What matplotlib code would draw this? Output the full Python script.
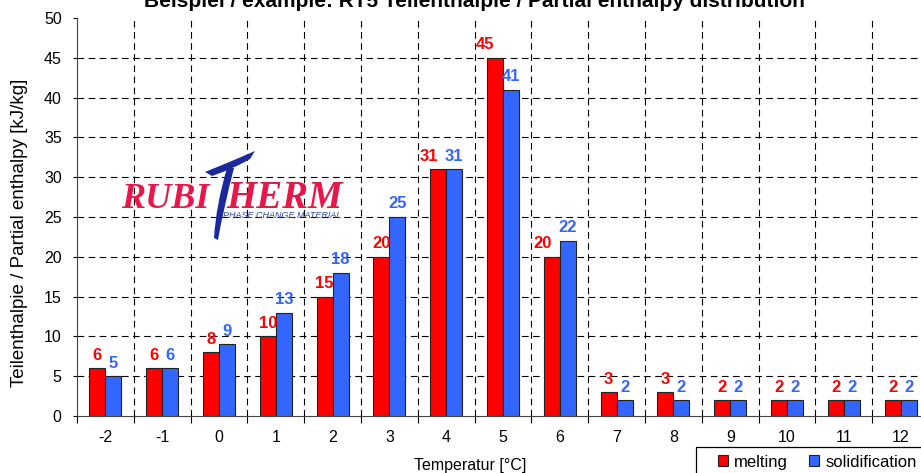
import matplotlib.pyplot as plt
import numpy as np
from matplotlib.path import Path
from matplotlib.patches import PathPatch, Rectangle

plt.rcParams['font.family'] = ['Liberation Sans', 'DejaVu Sans']

# data
temps = ['-2', '-1', '0', '1', '2', '3', '4', '5', '6', '7', '8', '9', '10', '11', '12']
melting = [6, 6, 8, 10, 15, 20, 31, 45, 20, 3, 3, 2, 2, 2, 2]
solidification = [5, 6, 9, 13, 18, 25, 31, 41, 22, 2, 2, 2, 2, 2, 2]

red = '#ff0000'
blue = '#3366ff'
W, H = 921, 473


def fx(px):
    return px / W


def fy(py):
    return 1 - py / H


fig = plt.figure(figsize=(W / 100, H / 100), dpi=100)
ax = fig.add_axes([fx(77), fy(416), 852 / W, 398 / H])

x = np.arange(len(temps))
bw = 0.28
ax.bar(x - bw / 2, melting, bw, color=red, edgecolor='#222222', linewidth=0.8, label='melting', zorder=3)
ax.bar(x + bw / 2, solidification, bw, color=blue, edgecolor='#222222', linewidth=0.8, label='solidification', zorder=3)

for i in range(len(temps)):
    # red label pushed left where both labels sit at about the same height
    dx = -7 if (abs(melting[i] - solidification[i]) <= 4 and melting[i] >= 20) else 0
    ax.annotate(str(melting[i]), (x[i] - bw / 2, melting[i]), xytext=(dx, 4), textcoords='offset points',
                ha='center', va='bottom', color=red, fontsize=12, fontweight='bold')
    ax.annotate(str(solidification[i]), (x[i] + bw / 2, solidification[i]), xytext=(0, 4), textcoords='offset points',
                ha='center', va='bottom', color=blue, fontsize=12, fontweight='bold')

ax.set_xlim(-0.5, len(temps) - 0.5)
ax.set_ylim(0, 50)
ax.set_yticks(np.arange(0, 51, 5))
ax.set_xticks(np.arange(-0.5, len(temps), 1))
ax.set_xticklabels([])
ax.set_xticks(x, minor=True)
ax.set_xticklabels(temps, minor=True)
ax.tick_params(axis='x', which='major', length=5, direction='out')
ax.tick_params(axis='x', which='minor', length=0, pad=10, labelsize=11.5)
ax.tick_params(axis='y', length=3, pad=8, labelsize=11.5)

ax.grid(True, which='major', color='black', linestyle=(0, (6, 4)), linewidth=0.8, zorder=0)
ax.get_ygridlines()[0].set_visible(False)
ax.get_ygridlines()[-1].set_visible(False)
ax.get_xgridlines()[0].set_visible(False)
ax.set_axisbelow(True)
for s in ['top', 'right']:
    ax.spines[s].set_visible(False)
ax.spines['left'].set_color('#444444')
ax.spines['bottom'].set_color('#444444')

fig.text(fx(20), fy(233), 'Teilenthalpie / Partial enthalpy [kJ/kg]', rotation=90,
         ha='center', va='center', fontsize=13.5)
ax.set_xlabel('Temperatur [°C]', fontsize=11.5)
ax.xaxis.set_label_coords(0.461, -0.105)

fig.text(fx(474), fy(7), 'Beispiel / example: RT5 Teilenthalpie / Partial enthalpy distribution',
         ha='center', va='baseline', fontsize=15, fontweight='bold')

# logo
logo_red = '#e8174a'
fig.text(fx(121), fy(208), 'RUBI', family='Liberation Serif', style='italic', fontweight='bold',
         fontsize=26, color=logo_red, va='baseline')
fig.text(fx(226), fy(208), 'HERM', family='Liberation Serif', style='italic', fontweight='bold',
         fontsize=28, color=logo_red, va='baseline')
fig.text(fx(223), fy(218), 'PHASE CHANGE MATERIAL', style='italic', fontsize=6.5, color='#3344aa', va='baseline')
t_verts = [(fx(205), fy(172)), (fx(230), fy(162)), (fx(255), fy(151)),
           (fx(250), fy(159)), (fx(235), fy(168)), (fx(212), fy(176)),
           (fx(205), fy(172))]
t_codes = [Path.MOVETO, Path.CURVE3, Path.CURVE3, Path.LINETO, Path.CURVE3, Path.CURVE3, Path.CLOSEPOLY]
fig.patches.append(PathPatch(Path(t_verts, t_codes), transform=fig.transFigure, color='#1a2a9c', lw=0))
s_verts = [(fx(227), fy(168)), (fx(234), fy(168)), (fx(223), fy(210)), (fx(218), fy(240)),
           (fx(214), fy(238)), (fx(216), fy(205)), (fx(227), fy(168))]
s_codes = [Path.MOVETO, Path.LINETO, Path.CURVE3, Path.CURVE3, Path.LINETO, Path.CURVE3, Path.CURVE3]
fig.patches.append(PathPatch(Path(s_verts, s_codes), transform=fig.transFigure, color='#1a2a9c', lw=0))

# legend box runs past the right/bottom edge as in the reference
fig.patches.append(Rectangle((fx(696), fy(480)), fx(240), 33 / H, transform=fig.transFigure,
                             facecolor='white', edgecolor='black', linewidth=0.9))
fig.legend(loc='center left', bbox_to_anchor=(fx(713), fy(462)), ncol=2, fontsize=12, frameon=False,
           handlelength=0.6, handleheight=0.6, handletextpad=0.35, columnspacing=1.3,
           borderpad=0.3, borderaxespad=0)

fig.savefig('out.png', dpi=100)
